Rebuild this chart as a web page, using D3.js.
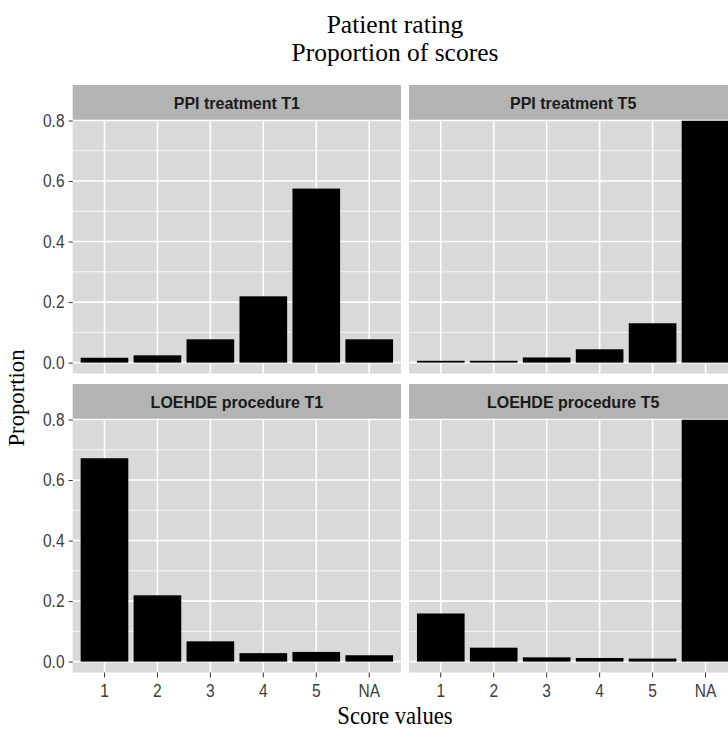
<!DOCTYPE html>
<html>
<head>
<meta charset="utf-8">
<script src="https://cdn.jsdelivr.net/npm/d3@7"></script>
<style>
	body { margin: 0; background: #fff; }
	svg { display: block; }
</style>
</head>
<body>
<div class="canvas"></div>
<script>
// data
const categories = ['1', '2', '3', '4', '5', 'NA'];
const panelNames = ['PPI treatment T1', 'PPI treatment T5', 'LOEHDE procedure T1', 'LOEHDE procedure T5'];
const ppiT1 = [0.016, 0.024, 0.077, 0.219, 0.575, 0.077];
const ppiT5 = [0.006, 0.006, 0.017, 0.044, 0.130, 0.80];
const loehdeT1 = [0.672, 0.219, 0.067, 0.028, 0.032, 0.021];
const loehdeT5 = [0.159, 0.046, 0.014, 0.012, 0.010, 0.80];
const yTicks = [0, 0.2, 0.4, 0.6, 0.8];
const yMinor = [0.1, 0.3, 0.5, 0.7];

const seriesByPanel = [ppiT1, ppiT5, loehdeT1, loehdeT5];

const dims = { width: 728, height: 731 };
const panel = { left: 72.7, top: 85, width: 328.3, height: 253, strip: 35.5, gapX: 8, gapY: 10.5 };

const serif = '"Liberation Serif", "Times New Roman", serif';
const sans = '"Liberation Sans", Arial, sans-serif';

const svg = d3.select('.canvas').append('svg')
	.attr('width', dims.width)
	.attr('height', dims.height);

const x = d3.scaleBand()
	.domain(categories)
	.range([0, panel.width])
	.paddingInner(0.1)
	.paddingOuter(0.15);

const y = d3.scaleLinear()
	.domain([-0.8 * 0.045, 0.8])
	.range([panel.height, 0]);

svg.append('defs').append('clipPath')
	.attr('id', 'panel-clip')
	.append('rect')
	.attr('width', panel.width)
	.attr('height', panel.height);

panelNames.forEach((name, i) => {
	const col = i % 2, row = Math.floor(i / 2);
	const px = panel.left + col * (panel.width + panel.gapX);
	const py = panel.top + row * (panel.strip + panel.height + panel.gapY);

	const g = svg.append('g')
		.attr('transform', `translate(${px}, ${py})`);

	// strip
	g.append('rect')
		.attr('width', panel.width)
		.attr('height', panel.strip)
		.attr('fill', '#b3b3b3');

	g.append('text')
		.attr('x', panel.width / 2)
		.attr('y', panel.strip / 2)
		.attr('dy', '0.36em')
		.attr('text-anchor', 'middle')
		.attr('font-family', sans)
		.attr('font-weight', 'bold')
		.attr('font-size', 16)
		.attr('fill', '#1a1a1a')
		.text(name);

	const body = g.append('g')
		.attr('transform', `translate(0, ${panel.strip})`);

	body.append('rect')
		.attr('width', panel.width)
		.attr('height', panel.height)
		.attr('fill', '#d9d9d9');

	// grid
	body.selectAll('.minor')
		.data(yMinor)
		.enter().append('line')
		.attr('x1', 0).attr('x2', panel.width)
		.attr('y1', d => y(d)).attr('y2', d => y(d))
		.attr('stroke', '#fff')
		.attr('stroke-width', 0.8);

	body.selectAll('.major-y')
		.data(yTicks)
		.enter().append('line')
		.attr('x1', 0).attr('x2', panel.width)
		.attr('y1', d => y(d)).attr('y2', d => y(d))
		.attr('stroke', '#fff')
		.attr('stroke-width', 1.6);

	body.selectAll('.major-x')
		.data(categories)
		.enter().append('line')
		.attr('x1', d => x(d) + x.bandwidth() / 2)
		.attr('x2', d => x(d) + x.bandwidth() / 2)
		.attr('y1', 0).attr('y2', panel.height)
		.attr('stroke', '#fff')
		.attr('stroke-width', 1.6);

	// bars
	body.append('g')
		.attr('clip-path', 'url(#panel-clip)')
		.selectAll('rect')
		.data(seriesByPanel[i].map((v, j) => ({ cat: categories[j], value: v })))
		.enter().append('rect')
		.attr('x', d => x(d.cat))
		.attr('width', x.bandwidth())
		.attr('y', d => y(d.value))
		.attr('height', d => y(0) - y(d.value))
		.attr('fill', '#000');

	// y axis on left column
	if (col === 0) {
		const yAxis = d3.axisLeft(y)
			.tickValues(yTicks)
			.tickFormat(d3.format('.1f'))
			.tickSize(4)
			.tickPadding(4.2);
		const ya = body.append('g').call(yAxis);
		ya.select('.domain').remove();
		ya.selectAll('line').attr('stroke', '#333').attr('stroke-width', 1);
		ya.selectAll('text')
			.attr('font-family', sans)
			.attr('font-size', 15.5)
			.attr('fill', '#3d3d3d')
			.attr('transform', 'scale(1, 1.18)');
	}

	// x axis on bottom row
	if (row === 1) {
		const xAxis = d3.axisBottom(x)
			.tickSize(5);
		const xa = body.append('g')
			.attr('transform', `translate(0, ${panel.height})`)
			.call(xAxis);
		xa.select('.domain').remove();
		xa.selectAll('line').attr('stroke', '#333').attr('stroke-width', 1);
		xa.selectAll('text')
			.attr('y', 0)
			.attr('dy', '0.36em')
			.attr('font-family', sans)
			.attr('font-size', 15.5)
			.attr('fill', '#3d3d3d')
			.attr('transform', 'translate(0, 18) scale(1, 1.18)');
	}
});

// titles
const titleLines = ['Patient rating', 'Proportion of scores'];
const titleBase = [33, 61];
titleLines.forEach((line, k) => {
	svg.append('text')
		.attr('x', 395)
		.attr('y', titleBase[k])
		.attr('text-anchor', 'middle')
		.attr('font-family', serif)
		.attr('font-size', 25.5)
		.attr('fill', '#000')
		.text(line);
});

svg.append('text')
	.attr('transform', 'translate(395, 724) scale(1, 1.08)')
	.attr('text-anchor', 'middle')
	.attr('font-family', serif)
	.attr('font-size', 22.7)
	.attr('fill', '#000')
	.text('Score values');

svg.append('text')
	.attr('transform', 'translate(24, 398) rotate(-90)')
	.attr('text-anchor', 'middle')
	.attr('font-family', serif)
	.attr('font-size', 22.7)
	.attr('fill', '#000')
	.text('Proportion');
</script>
</body>
</html>
